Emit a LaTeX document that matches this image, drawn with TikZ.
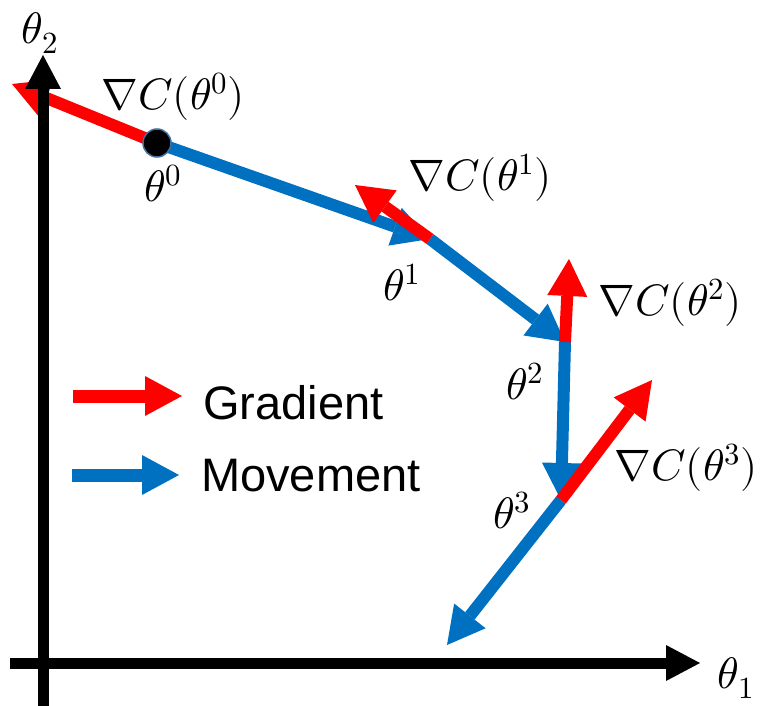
\documentclass[tikz,border=0pt]{standalone}
\usepackage{fontspec}
\usepackage{unicode-math}
\setmathfont{Latin Modern Math}
\newfontfamily\legendfont{Liberation Sans}
\usetikzlibrary{arrows.meta}

\definecolor{gradred}{RGB}{255,0,0}
\definecolor{moveblue}{RGB}{0,112,192}
\definecolor{dotedge}{RGB}{65,113,156}

\begin{document}
\begin{tikzpicture}[
		x=1pt, y=-1pt,
		% Axes
		axis/.style={line width=11pt, -{Triangle[length=34pt, width=36pt, line width=0pt]}},
		% Gradient and movement arrows
		grad/.style={draw=gradred, line width=12pt, -{Triangle[length=37pt, width=40pt, line width=0pt]}},
		move/.style={draw=moveblue, line width=12pt, -{Triangle[length=37pt, width=40pt, line width=0pt]}},
		% Start point
		startdot/.style={circle, fill=black, draw=dotedge, line width=1.5pt, minimum size=28pt, inner sep=0pt},
		% Text
		math label/.style={font=\fontsize{44}{50}\selectfont, inner sep=0pt},
		legend label/.style={font=\legendfont\fontsize{47}{52}\selectfont, anchor=west, inner sep=0pt}
	]
	\useasboundingbox (0,0) rectangle (761,706);

	% ==============================================================================
	% Points of the descent
	% ==============================================================================
	\coordinate (t0) at (157,143);
	\coordinate (t1) at (430,239);
	\coordinate (t2) at (565,342);
	\coordinate (t3) at (561,500);
	\coordinate (t4) at (447,645);

	% gradient tips
	\coordinate (g0) at (12,84);
	\coordinate (g1) at (355,185);
	\coordinate (g2) at (569,259);
	\coordinate (g3) at (652,380);

	% Movement
	\draw[move] (t0) -- (t1);
	\draw[move] (t1) -- (t2);
	\draw[move] (t2) -- (t3);
	\draw[move] (t3) -- (t4);

	% Gradient
	\draw[grad] (t0) -- (g0);
	\draw[grad] (t1) -- (g1);
	\draw[grad] (t2) -- (g2);
	\draw[grad] (t3) -- (g3);

	\node[startdot] (p0) at (t0) {};

	% Labels
	\node[math label] (lg0) at (173,97) {$\nabla C(\theta^0)$};
	\node[math label] (lt0) at (163,183) {$\theta^0$};
	\node[math label] (lg1) at (480,178) {$\nabla C(\theta^1)$};
	\node[math label] (lt1) at (402,282) {$\theta^1$};
	\node[math label] (lg2) at (670,303) {$\nabla C(\theta^2)$};
	\node[math label] (lt2) at (525,381) {$\theta^2$};
	\node[math label] (lg3) at (686,468) {$\nabla C(\theta^3)$};
	\node[math label] (lt3) at (512,510) {$\theta^3$};

	% ==============================================================================
	% Legend
	% ==============================================================================
	\coordinate (lgA) at (73,396);
	\coordinate (lgB) at (182,396);
	\coordinate (lmA) at (72,475);
	\coordinate (lmB) at (179,475);
	\draw[grad, line width=13pt] (lgA) -- (lgB);
	\draw[move, line width=13pt] (lmA) -- (lmB);
	\node[legend label] (gradtext) at (203,403) {Gradient};
	\node[legend label] (movetext) at (201,476) {Movement};

	% ==============================================================================
	% Axes
	% ==============================================================================
	\coordinate (o1) at (10,663);
	\coordinate (x1) at (700,663);
	\coordinate (o2) at (43,706);
	\coordinate (x2) at (43,55);
	\draw[axis] (o1) -- (x1);
	\draw[axis] (o2) -- (x2);
	\node[math label] (ax1) at (736,678) {$\theta_1$};
	\node[math label] (ax2) at (40,33) {$\theta_2$};
\end{tikzpicture}
\end{document}
